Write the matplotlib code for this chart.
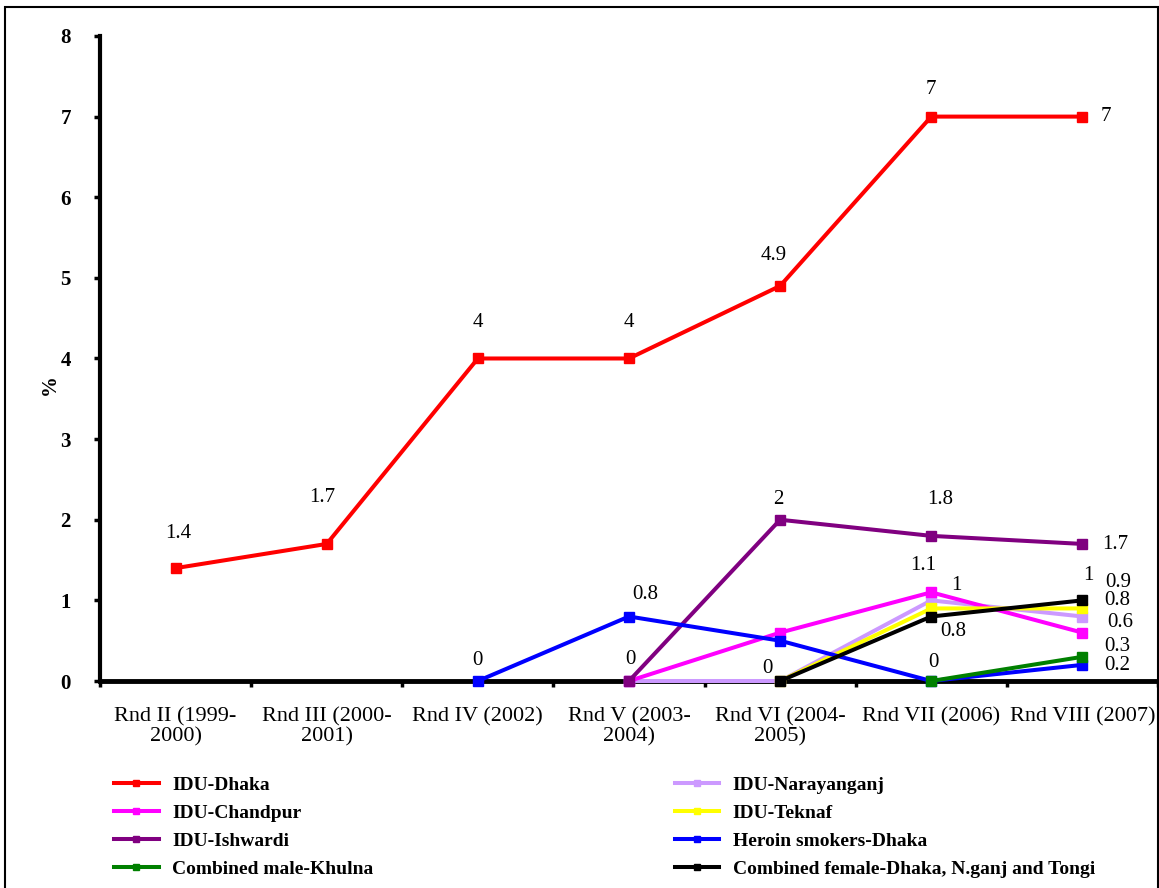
import numpy as np
import matplotlib.pyplot as plt
from matplotlib.lines import Line2D
from matplotlib.patches import Rectangle

plt.rcParams['font.family'] = ['Liberation Serif', 'DejaVu Serif']

rounds = ['Rnd II (1999-\n2000)', 'Rnd III (2000-\n2001)', 'Rnd IV (2002)',
          'Rnd V (2003-\n2004)', 'Rnd VI (2004-\n2005)', 'Rnd VII (2006)',
          'Rnd VIII (2007)']

nan = np.nan
idu_dhaka = [1.4, 1.7, 4, 4, 4.9, 7, 7]
idu_narayanganj = [nan, nan, nan, 0, 0, 1.0, 0.8]
idu_chandpur = [nan, nan, nan, 0, 0.6, 1.1, 0.6]
idu_teknaf = [nan, nan, nan, nan, 0, 0.9, 0.9]
idu_ishwardi = [nan, nan, nan, 0, 2, 1.8, 1.7]
heroin_dhaka = [nan, nan, 0, 0.8, 0.5, 0, 0.2]
male_khulna = [nan, nan, nan, nan, nan, 0, 0.3]
female_combined = [nan, nan, nan, nan, 0, 0.8, 1.0]

series = [
    ('IDU-Dhaka', idu_dhaka, '#ff0000'),
    ('IDU-Narayanganj', idu_narayanganj, '#cc99ff'),
    ('IDU-Chandpur', idu_chandpur, '#ff00ff'),
    ('IDU-Teknaf', idu_teknaf, '#ffff00'),
    ('IDU-Ishwardi', idu_ishwardi, '#800080'),
    ('Heroin smokers-Dhaka', heroin_dhaka, '#0000ff'),
    ('Combined male-Khulna', male_khulna, '#008000'),
    ('Combined female-Dhaka, N.ganj and Tongi', female_combined, '#000000'),
]

# (series, point, dx, dy) - value labels, offsets in pixels
point_labels = [
    (0, 0, 3, 35), (0, 1, -4, 46), (0, 2, 0, 36), (0, 3, 0, 36),
    (0, 4, -6, 30), (0, 5, 0, 27), (0, 6, 23, 0),
    (5, 2, 0, 21), (5, 3, 16, 22), (4, 3, 1, 22),
    (4, 4, -2, 20), (4, 5, 9, 36), (4, 6, 33, -1),
    (7, 4, -13, 13), (2, 5, -8, 27), (1, 5, 25, 15), (7, 5, 22, -15),
    (6, 5, 2, 19),
    (7, 6, 6, 25), (3, 6, 36, 26), (1, 6, 35, 16), (2, 6, 38, 10),
    (6, 6, 35, 10), (5, 6, 35, -1),
]

fig = plt.figure(figsize=(11.59, 8.88), dpi=100)
ax = fig.add_axes([0.0863, 0.2331, 0.9128, 0.7264])

x = np.arange(len(rounds))
for i, (name, vals, col) in enumerate(series):
    ax.plot(x, vals, color=col, lw=2.9, marker='s', ms=6.5,
            label=name, zorder=3 + i, clip_on=False)

for si, pi, dx, dy in point_labels:
    v = series[si][1][pi]
    ax.annotate(f'{v:g}', (x[pi], v), xytext=(dx, dy),
                textcoords='offset pixels', ha='center', va='center',
                fontsize=15, zorder=20)

ax.set_xlim(-0.5, 6.5)
ax.set_ylim(0, 8)
ax.set_yticks(range(0, 9))
ax.set_xticks(x)
ax.set_xticklabels(rounds, fontsize=16, linespacing=1.05)
ax.set_xticks(np.arange(-0.5, 7, 1), minor=True)
ax.tick_params(axis='x', which='major', length=0, pad=19)
ax.tick_params(axis='x', which='minor', length=4, width=2.5, direction='out')
ax.tick_params(axis='y', length=4, width=2.5, direction='out', labelsize=15, pad=17)
for lbl in ax.get_yticklabels():
    lbl.set_fontweight('bold')

for s in ['top', 'right']:
    ax.spines[s].set_visible(False)
ax.spines['left'].set_linewidth(3)
ax.spines['bottom'].set_linewidth(3.5)
ax.spines['bottom'].set_zorder(2)
ax.set_ylabel('%', fontsize=15, fontweight='bold')
ax.yaxis.set_label_coords(-0.038, 0.46)

handles = [Line2D([], [], color=c, lw=2.9, marker='s', ms=5) for _, _, c in series]
names = [n for n, _, _ in series]
leg_kw = dict(frameon=False, handlelength=2.3, handletextpad=0.7,
              labelspacing=0.53, borderpad=0, borderaxespad=0,
              loc='upper left', prop={'size': 14, 'weight': 'bold'})
fig.legend([handles[i] for i in (0, 2, 4, 6)], [names[i] for i in (0, 2, 4, 6)],
           bbox_to_anchor=(0.0984, 0.1255), **leg_kw)
fig.legend([handles[i] for i in (1, 3, 5, 7)], [names[i] for i in (1, 3, 5, 7)],
           bbox_to_anchor=(0.582, 0.1255), **leg_kw)

fig.add_artist(Rectangle((0.004, -0.01), 0.995, 1.002, transform=fig.transFigure,
                         fill=False, ec='black', lw=1.5))

fig.savefig('out.png', dpi=100)
